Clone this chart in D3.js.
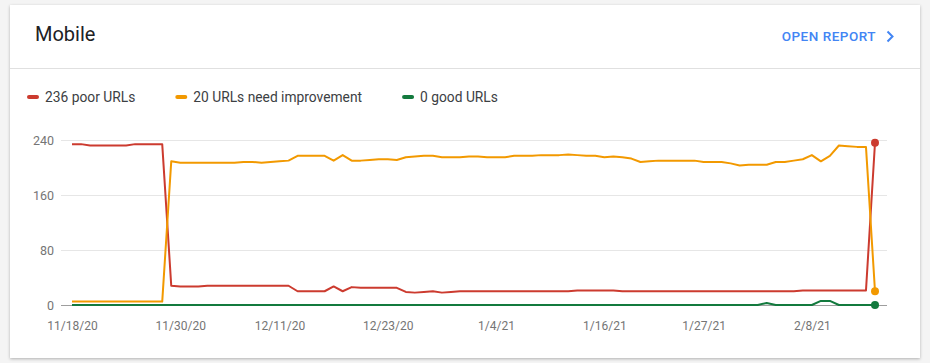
<!DOCTYPE html>
<html>
<head>
<meta charset="utf-8">
<script src="https://cdn.jsdelivr.net/npm/d3@7"></script>
<style>
  html, body { margin: 0; padding: 0; background: #f4f4f4; }
  svg { display: block; font-family: Roboto, "Noto Sans", sans-serif; }
</style>
</head>
<body>
<svg id="svg" width="930" height="363"></svg>
<script>
// ---- data ----
const startDate = new Date(2020, 10, 18);
const tickDates = ["2020-11-18", "2020-11-30", "2020-12-11", "2020-12-23", "2021-01-04", "2021-01-16", "2021-01-27", "2021-02-08"];
const yTicks = [0, 80, 160, 240];
const seriesNames = ["236 poor URLs", "20 URLs need improvement", "0 good URLs"];
const seriesColors = ["#cc3b2f", "#f29900", "#137a3e"];

const poor = [
  234, 234, 232, 232, 232, 232, 232, 234, 234, 234, 234,
  28, 27, 27, 27, 28, 28, 28, 28, 28, 28, 28, 28, 28, 28,
  20, 20, 20, 20, 27, 20, 26, 25, 25, 25, 25, 25,
  19, 18, 19, 20, 18, 19,
  20, 20, 20, 20, 20, 20, 20, 20, 20, 20, 20, 20, 20,
  21, 21, 21, 21, 21,
  20, 20, 20, 20, 20, 20, 20, 20, 20, 20, 20, 20, 20, 20, 20, 20, 20, 20, 20, 20,
  21, 21, 21, 21, 21, 21, 21, 21,
  236
];
const needImprovement = [
  5, 5, 5, 5, 5, 5, 5, 5, 5, 5, 5,
  209, 207, 207, 207, 207, 207, 207, 207,
  208, 208, 207, 208, 209, 210,
  217, 217, 217, 217,
  210, 218, 210, 210, 211, 212, 212, 211,
  215, 216, 217, 217, 215, 215, 215, 216, 216, 215, 215, 215, 217, 217, 217, 218, 218, 218, 219, 218, 217, 217, 215, 216, 215, 213,
  208, 209, 210, 210, 210, 210, 210, 208, 208, 208, 206, 203, 204, 204, 204, 208, 208, 210, 212, 218, 209, 217, 232, 231, 230, 230,
  20
];
const good = [
  0, 0, 0, 0, 0, 0, 0, 0, 0, 0, 0, 0, 0, 0, 0, 0, 0, 0, 0, 0,
  0, 0, 0, 0, 0, 0, 0, 0, 0, 0, 0, 0, 0, 0, 0, 0, 0, 0, 0, 0,
  0, 0, 0, 0, 0, 0, 0, 0, 0, 0, 0, 0, 0, 0, 0, 0, 0, 0, 0, 0,
  0, 0, 0, 0, 0, 0, 0, 0, 0, 0, 0, 0, 0, 0, 0, 0, 0, 3, 0, 0,
  0, 0, 0, 6, 6, 0, 0, 0, 0, 0
];

const series = [poor, needImprovement, good];
const dates = poor.map((_, i) => d3.timeDay.offset(startDate, i));

// ---- layout ----
const svg = d3.select("#svg");
const card = { x: 10, y: 5, w: 910, h: 353 };

const defs = svg.append("defs");
const shadow = defs.append("filter").attr("id", "shadow")
  .attr("x", "-5%").attr("y", "-5%").attr("width", "110%").attr("height", "115%");
shadow.append("feDropShadow")
  .attr("dx", 0).attr("dy", 1).attr("stdDeviation", 1.5)
  .attr("flood-color", "#000").attr("flood-opacity", 0.28);

svg.append("rect")
  .attr("x", card.x).attr("y", card.y)
  .attr("width", card.w).attr("height", card.h)
  .attr("fill", "#fff")
  .attr("filter", "url(#shadow)");

// header
svg.append("text")
  .attr("x", 35).attr("y", 41)
  .attr("font-size", 20)
  .attr("fill", "#202124")
  .text("Mobile");

svg.append("text")
  .attr("x", 876).attr("y", 41)
  .attr("text-anchor", "end")
  .attr("font-size", 13.5)
  .attr("font-weight", 500)
  .attr("letter-spacing", 0.5)
  .attr("fill", "#4285f4")
  .text("OPEN REPORT");

svg.append("path")
  .attr("d", "M887.5,31.5 L892.5,36.5 L887.5,41.5")
  .attr("fill", "none")
  .attr("stroke", "#4285f4")
  .attr("stroke-width", 2);

svg.append("line")
  .attr("x1", card.x).attr("x2", card.x + card.w)
  .attr("y1", 68.5).attr("y2", 68.5)
  .attr("stroke", "#e0e0e0");

// legend
const legend = svg.append("g").attr("transform", "translate(27,97)");
let lx = 0;
seriesNames.forEach((name, i) => {
  const g = legend.append("g").attr("transform", `translate(${lx},0)`);
  g.append("line")
    .attr("x1", 2).attr("x2", 10)
    .attr("stroke", seriesColors[i])
    .attr("stroke-width", 4)
    .attr("stroke-linecap", "round");
  const t = g.append("text")
    .attr("x", 18).attr("dy", "0.35em")
    .attr("font-size", 13.8)
    .attr("fill", "#3c4043")
    .text(name);
  lx += 18 + t.node().getComputedTextLength() + 40;
});

// scales
const x = d3.scaleTime()
  .domain([startDate, dates[dates.length - 1]])
  .range([72, 875]);
const y = d3.scaleLinear()
  .domain([0, 240])
  .range([305, 140]);
const plotLeft = 61, plotRight = 887;

// gridlines
svg.append("g")
  .selectAll("line")
  .data(yTicks)
  .join("line")
  .attr("x1", plotLeft).attr("x2", plotRight)
  .attr("y1", d => y(d) + 0.5).attr("y2", d => y(d) + 0.5)
  .attr("stroke", d => d === 0 ? "#9e9e9e" : "#e6e6e6");

// y axis
const yAxis = svg.append("g")
  .attr("transform", "translate(54,0)")
  .call(d3.axisLeft(y).tickValues(yTicks).tickSize(0).tickPadding(0));
yAxis.select(".domain").remove();
yAxis.selectAll("text")
  .attr("font-family", "Roboto, sans-serif")
  .attr("font-size", 12.5)
  .attr("fill", "#757575");

// x axis
const parse = d3.timeParse("%Y-%m-%d");
const xAxis = svg.append("g")
  .attr("transform", "translate(0,305)")
  .call(d3.axisBottom(x)
    .tickValues(tickDates.map(parse))
    .tickFormat(d3.timeFormat("%-m/%-d/%y"))
    .tickSize(0)
    .tickPadding(16));
xAxis.select(".domain").remove();
xAxis.selectAll("text")
  .attr("font-family", "Roboto, sans-serif")
  .attr("font-size", 12)
  .attr("fill", "#757575");

// lines
const line = d3.line()
  .x((d, i) => x(dates[i]))
  .y(d => y(d));

const order = [2, 0, 1];
order.forEach(i => {
  svg.append("path")
    .attr("d", line(series[i]))
    .attr("fill", "none")
    .attr("stroke", seriesColors[i])
    .attr("stroke-width", 2)
    .attr("stroke-linejoin", "round");
});

// end points
order.forEach(i => {
  const last = series[i].length - 1;
  svg.append("circle")
    .attr("cx", x(dates[last]))
    .attr("cy", y(series[i][last]))
    .attr("r", 4)
    .attr("fill", seriesColors[i]);
});
</script>
</body>
</html>
